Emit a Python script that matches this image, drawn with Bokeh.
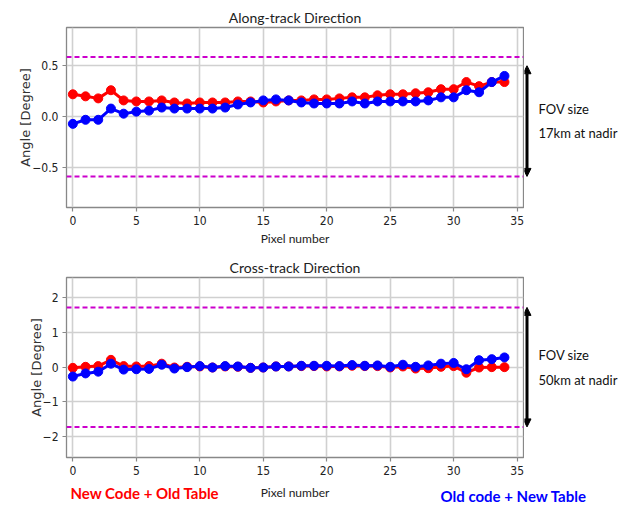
from bokeh.plotting import figure
from bokeh.layouts import column, row
from bokeh.models import Span, Arrow, NormalHead, Label, FixedTicker, ColumnDataSource, Range1d
from bokeh.embed import file_html
from bokeh.resources import INLINE

pixels = [0, 1, 2, 3, 4, 5, 6, 7, 8, 9, 10, 11, 12, 13, 14, 15, 16, 17, 18, 19,
          20, 21, 22, 23, 24, 25, 26, 27, 28, 29, 30, 31, 32, 33, 34]

along_new_code_old_table = [0.22, 0.20, 0.18, 0.26, 0.16, 0.15, 0.15, 0.16, 0.14, 0.13,
                            0.14, 0.14, 0.14, 0.15, 0.15, 0.14, 0.15, 0.16, 0.16, 0.17,
                            0.17, 0.18, 0.19, 0.19, 0.21, 0.22, 0.22, 0.23, 0.24, 0.27,
                            0.27, 0.34, 0.30, 0.34, 0.34]
along_old_code_new_table = [-0.07, -0.03, -0.03, 0.08, 0.03, 0.05, 0.06, 0.09, 0.08, 0.08,
                            0.08, 0.08, 0.09, 0.12, 0.14, 0.16, 0.17, 0.16, 0.14, 0.13,
                            0.13, 0.13, 0.15, 0.13, 0.15, 0.15, 0.15, 0.15, 0.16, 0.19,
                            0.19, 0.26, 0.24, 0.34, 0.40]

cross_new_code_old_table = [-0.02, 0.01, 0.03, 0.21, 0.03, 0.02, 0.03, 0.10, -0.01, 0.01,
                            0.02, -0.01, 0.02, 0.01, -0.02, -0.01, 0.02, 0.02, 0.03, 0.03,
                            0.02, 0.02, 0.04, 0.03, 0.03, -0.01, 0.02, -0.04, -0.03, 0.01,
                            0.03, -0.16, -0.01, 0.00, 0.00]
cross_old_code_new_table = [-0.27, -0.18, -0.13, 0.10, -0.07, -0.06, -0.05, 0.07, -0.04, 0.00,
                            0.03, -0.01, 0.03, 0.02, -0.02, -0.01, 0.02, 0.02, 0.04, 0.04,
                            0.04, 0.03, 0.06, 0.04, 0.05, 0.01, 0.07, 0.01, 0.05, 0.10,
                            0.12, -0.06, 0.20, 0.23, 0.28]

along_fov_half = 0.585
cross_fov_half = 1.72
along_yticks = [-0.5, 0.0, 0.5]
along_ytick_labels = {-0.5: "\u22120.5", 0.0: "0.0", 0.5: "0.5"}
cross_yticks = [-2, -1, 0, 1, 2]
cross_ytick_labels = {-2: "\u22122", -1: "\u22121", 0: "0", 1: "1", 2: "2"}
xticks = [0, 5, 10, 15, 20, 25, 30, 35]

TXT = "Lato"
TICK = "DejaVu Sans Condensed"
RED = "#ff0000"
BLUE = "#0000ff"
MAG = "#cc00cc"
MAIN_W = 524
SIDE_W = 623 - MAIN_W


def make_panel(title, red, blue, yr, yticks, ylabels, fov, fov_arrow_top, fov_text,
               height, bottom_border, xlabel):
    y_range = Range1d(*yr)
    p = figure(width=MAIN_W, height=height, x_range=(-0.5, 35.5), y_range=y_range,
               output_backend="svg", toolbar_location=None,
               min_border_left=66, min_border_right=1, min_border_top=27,
               min_border_bottom=bottom_border)
    p.title.text = title
    p.title.align = "center"
    p.title.text_font = TXT
    p.title.text_font_style = "normal"
    p.title.text_font_size = "14px"
    p.title.text_color = "#222222"
    p.title.standoff = 4
    p.outline_line_color = "#888888"
    p.outline_line_width = 1.3
    for ax in (p.xaxis[0], p.yaxis[0]):
        ax.axis_line_color = None
        ax.major_tick_line_color = "#888888"
        ax.major_tick_line_width = 1.2
        ax.major_tick_out = 4
        ax.major_tick_in = 0
        ax.minor_tick_line_color = None
        ax.major_label_text_font = TICK
        ax.major_label_text_font_size = "12px"
        ax.major_label_text_color = "#222222"
        ax.major_label_standoff = 4
    p.xaxis.ticker = FixedTicker(ticks=xticks)
    p.yaxis.ticker = FixedTicker(ticks=yticks)
    p.yaxis.major_label_overrides = ylabels
    if xlabel:
        p.xaxis.axis_label = "Pixel number"
        p.xaxis.axis_label_text_font = TXT
        p.xaxis.axis_label_text_font_style = "normal"
        p.xaxis.axis_label_text_font_size = "12px"
        p.xaxis.axis_label_text_color = "#222222"
        p.xaxis.axis_label_standoff = 3
    p.yaxis.axis_label = "Angle [Degree]"
    p.yaxis.axis_label_text_font = "DejaVu Sans"
    p.yaxis.axis_label_text_font_style = "normal"
    p.yaxis.axis_label_text_font_size = "13px"
    p.yaxis.axis_label_text_color = "#333333"
    p.yaxis.axis_label_standoff = -4
    p.xgrid.grid_line_color = "#d0d0d0"
    p.ygrid.grid_line_color = "#d0d0d0"
    p.xgrid.grid_line_width = 1.6
    p.ygrid.grid_line_width = 1.6

    for loc in (fov, -fov):
        p.add_layout(Span(location=loc, dimension="width", line_color=MAG,
                          line_dash="5 3", line_width=2))

    src = ColumnDataSource(dict(x=pixels, red=red, blue=blue))
    p.line("x", "red", source=src, line_color=RED, line_width=3)
    p.scatter("x", "red", source=src, size=9, fill_color=RED, line_color=RED)
    p.line("x", "blue", source=src, line_color=BLUE, line_width=3)
    p.scatter("x", "blue", source=src, size=9, fill_color=BLUE, line_color=BLUE)

    # side panel sharing the y range, for the FOV arrow and its note
    s = figure(width=SIDE_W, height=height, x_range=(0, SIDE_W), y_range=y_range,
               output_backend="svg", toolbar_location=None,
               x_axis_type=None, y_axis_type=None,
               min_border_left=0, min_border_right=0, min_border_top=27,
               min_border_bottom=bottom_border)
    s.outline_line_color = None
    head = dict(size=8, fill_color="black", line_color="black", line_width=1)
    s.add_layout(Arrow(start=NormalHead(**head), end=NormalHead(**head),
                       x_start=2.5, y_start=fov_arrow_top, x_end=2.5, y_end=-fov,
                       line_color="black", line_width=3))
    for t, yy in fov_text:
        s.add_layout(Label(x=14, y=yy, text=t, text_font=TXT, text_font_size="13px",
                           text_baseline="middle", text_color="#111111"))
    return row(p, s, spacing=0)


r1 = make_panel("Along-track Direction", along_new_code_old_table, along_old_code_new_table,
                (-0.89, 0.875), along_yticks, along_ytick_labels, along_fov_half, 0.5,
                [("FOV size", 0.072), ("17km at nadir", -0.164)], 250, 43, True)
r2 = make_panel("Cross-track Direction", cross_new_code_old_table, cross_old_code_new_table,
                (-2.6, 2.58), cross_yticks, cross_ytick_labels, cross_fov_half, cross_fov_half,
                [("FOV size", 0.35), ("50km at nadir", -0.36)], 230, 23, False)

# bottom strip: x label of the lower panel and the two series notes
strip = figure(width=623, height=25, x_range=(0, 623), y_range=Range1d(25, 0),
               output_backend="svg", toolbar_location=None,
               x_axis_type=None, y_axis_type=None,
               min_border_left=0, min_border_right=0, min_border_top=0, min_border_bottom=0)
strip.outline_line_color = None
strip.add_layout(Label(x=294.5, y=12, text="Pixel number", text_font=TXT,
                       text_font_size="12px", text_color="#222222",
                       text_align="center", text_baseline="middle"))
strip.add_layout(Label(x=70, y=12, text="New Code  + Old Table", text_font=TXT,
                       text_font_style="bold", text_font_size="15px", text_color=RED,
                       text_baseline="middle"))
strip.add_layout(Label(x=440, y=15, text="Old code + New Table", text_font=TXT,
                       text_font_style="bold", text_font_size="15px", text_color=BLUE,
                       text_baseline="middle"))

layout = column(r1, r2, strip, spacing=0)
open("out.html", "w").write(file_html(layout, INLINE))
